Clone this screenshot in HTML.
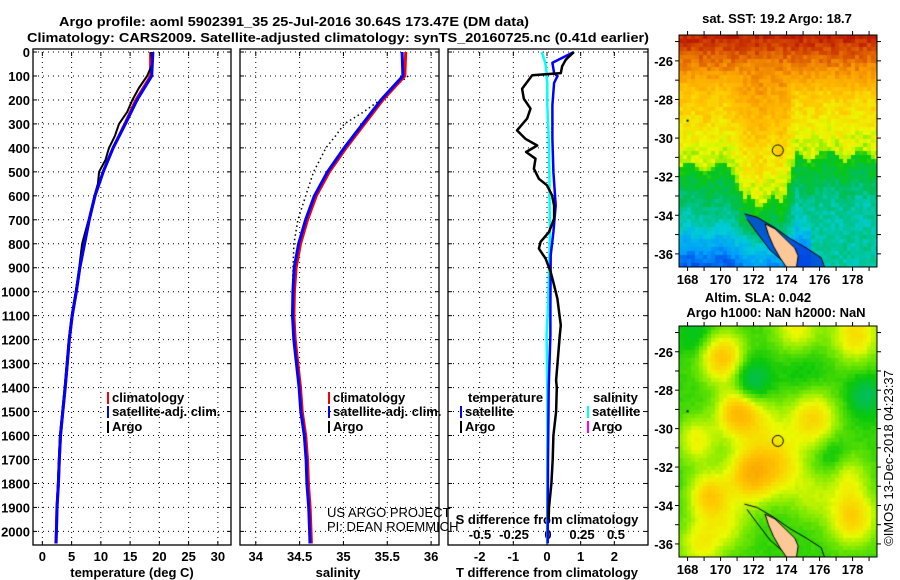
<!DOCTYPE html>
<html><head><meta charset="utf-8">
<style>
html,body{margin:0;padding:0;background:#fff;}
#wrap{position:relative;width:900px;height:580px;overflow:hidden;}
svg{position:absolute;left:0;top:0;}
text{font-family:"Liberation Sans",sans-serif;font-weight:bold;font-size:13px;fill:#000;}
.thin{font-weight:normal;}
</style></head><body>
<div id="wrap">
<canvas id="map1" width="198" height="232" style="position:absolute;left:679px;top:35px"></canvas>
<canvas id="map2" width="198" height="231" style="position:absolute;left:679px;top:326px"></canvas>
<svg id="fig" width="900" height="580"></svg>
</div>
<script>
// ---- data ----
const depthClim = [0,100,200,300,400,500,600,700,800,900,1000,1100,1200,1400,1500,1600,1700,1800,1900,2000,2050];
const tempClim  = [18.5,18.5,16.0,14.1,12.1,10.4,9.0,8.0,7.2,6.4,5.8,5.1,4.6,3.9,3.5,3.1,2.9,2.75,2.5,2.4,2.3];
const tempSat   = [18.9,18.7,16.2,14.2,12.1,10.4,9.0,8.0,7.2,6.4,5.8,5.1,4.6,3.9,3.5,3.1,2.9,2.75,2.5,2.4,2.35];
const depthArgo = [0,50,100,150,200,250,300,350,400,450,500,550,600,700,800,900,1000,1100,1200,1400,1600,1800,1900];
const tempArgo  = [18.6,18.8,17.9,16.5,15.4,14.5,13.1,12.4,11.4,10.8,9.7,9.5,8.9,7.9,6.8,6.3,5.7,5.0,4.5,3.8,3.0,2.65,2.45];
const salClim   = [35.71,35.70,35.45,35.24,35.03,34.84,34.69,34.59,34.51,34.46,34.44,34.435,34.45,34.51,34.53,34.57,34.59,34.60,34.62,34.63,34.635];
const salSat    = [35.68,35.69,35.44,35.23,35.02,34.83,34.68,34.58,34.50,34.45,34.435,34.43,34.445,34.505,34.525,34.565,34.585,34.595,34.615,34.625,34.63];
const depthSalArgo = [100,150,200,250,300,350,400,450,500,600,700,800,900,1000,1100,1200,1400,1600,1800,1950];
const salArgo   = [35.74,35.56,35.42,35.23,35.01,34.91,34.80,34.73,34.66,34.57,34.48,34.435,34.425,34.42,34.425,34.45,34.50,34.56,34.60,34.62];
const depthDiff = [0,32,60,88,97,153,195,236,278,327,362,390,417,445,487,529,556,598,640,695,751,792,820,862,918,973,1029,1085,1140,1182,1370,1400,1500,1600,1700,1800,1900,1950];
const tDiffArgo = [0.8,0.56,0.45,0.41,-0.44,-0.74,-0.69,-0.49,-0.59,-0.89,-0.64,-0.29,-0.62,-0.34,-0.39,-0.24,0,0.15,0.21,0.21,0.06,-0.19,-0.24,-0.04,0.11,0.21,0.31,0.36,0.41,0.38,0.27,0.29,0.27,0.19,0.17,0.13,0.06,0.05];
const depthSatDiff = [0,45,88,101,129,222,362,501,640,751,848,1057,1182,1400,1700,2000,2050];
const tDiffSat  = [0.8,0.16,0.21,0.31,0.21,0.16,0.16,0.19,0.26,0.19,0.11,0.1,0.1,0.05,0.03,0.02,0.02];
const sDiffSat  = [-0.046,-0.02,-0.01,-0.01,-0.005,-0.005,0.005,0.01,0.012,0.015,0.01,0.0,-0.01,-0.005,-0.005,-0.005,-0.005];
const depthTicks = [0,100,200,300,400,500,600,700,800,900,1000,1100,1200,1300,1400,1500,1600,1700,1800,1900,2000];
const tempTicks = [0,5,10,15,20,25,30];
const salTicks = [34,34.5,35,35.5,36];
const salTickLabels = ["34","34.5","35","35.5","36"];
const tdTicks = [-2,-1,0,1,2];
const sdTicks = [-0.5,-0.25,0,0.25,0.5];
const sdTickLabels = ["-0.5","-0.25","0","0.25","0.5"];
const latTicks = [-26,-28,-30,-32,-34,-36];
const lonTicks = [168,170,172,174,176,178];

const NS="http://www.w3.org/2000/svg";
const svg=document.getElementById('fig');
function el(tag,attrs,parent){const e=document.createElementNS(NS,tag);for(const k in attrs)e.setAttribute(k,attrs[k]);(parent||svg).appendChild(e);return e;}
function txt(x,y,s,anchor,extra){const t=el('text',Object.assign({x:x,y:y,'text-anchor':anchor||'start'},extra||{}));t.textContent=s;return t;}

const Y0=52, YPX=0.2397, YB=545;
const yS=d=>Y0+d*YPX;
const panels=[
 {x0:33,x1:231,v0:-1.6,v1:32.25},
 {x0:240,x1:439,v0:33.82,v1:36.09},
 {x0:448,x1:648,v0:-2.94,v1:3.0}
];
function xScale(p){return v=>p.x0+(v-p.v0)/(p.v1-p.v0)*(p.x1-p.x0);}
const xT=xScale(panels[0]), xS=xScale(panels[1]), xD=xScale(panels[2]);
const xSD=v=>548+v*136;

panels.forEach((p,i)=>{
  const g=el('g',{});
  
  
  const xs = i==0?tempTicks.map(xT):i==1?salTicks.map(xS):tdTicks.map(xD);
  depthTicks.forEach(d=>{el('line',{x1:p.x0,x2:p.x1,y1:yS(d),y2:yS(d),stroke:'#000','stroke-dasharray':'1,4','stroke-width':1},g);
    el('line',{x1:p.x0,x2:p.x0+4,y1:yS(d),y2:yS(d),stroke:'#000'},g);el('line',{x1:p.x1-4,x2:p.x1,y1:yS(d),y2:yS(d),stroke:'#000'},g);});
  xs.forEach(x=>{el('line',{x1:x,x2:x,y1:Y0,y2:YB,stroke:'#000','stroke-dasharray':'1,4'},g);
    el('line',{x1:x,x2:x,y1:YB-4,y2:YB,stroke:'#000'},g);el('line',{x1:x,x2:x,y1:Y0,y2:Y0+4,stroke:'#000'},g);});
  el('rect',{x:p.x0,y:Y0-3,width:p.x1-p.x0,height:YB-Y0+3,fill:'none',stroke:'#000','stroke-width':1.3},g);
});
depthTicks.forEach(d=>{const t=txt(30,yS(d)+5,String(d),'end');});
tempTicks.forEach(v=>{const t=txt(xT(v),561,String(v),'middle');});
salTicks.forEach((v,i)=>{const t=txt(xS(v),561,salTickLabels[i],'middle');});
tdTicks.forEach(v=>{const t=txt(xD(v),561,String(v),'middle');});
sdTicks.forEach((v,i)=>{const t=txt(xSD(v),539,sdTickLabels[i],'middle');});
let t;
t=txt(132,577,'temperature (deg C)','middle');
t=txt(338,577,'salinity','middle');
t=txt(547,577,'T difference from climatology','middle');
t=txt(547,524,'S difference from climatology','middle');
t=txt(294,26,'Argo profile: aoml 5902391_35 25-Jul-2016 30.64S 173.47E (DM data)','middle',{textLength:470,lengthAdjust:'spacingAndGlyphs','font-size':'14px'});
t=txt(338,42,'Climatology: CARS2009. Satellite-adjusted climatology: synTS_20160725.nc (0.41d earlier)','middle',{textLength:622,lengthAdjust:'spacingAndGlyphs','font-size':'14px'});
t=txt(327,517,'US ARGO PROJECT','start',{class:'thin','font-size':'12px'});
t=txt(327,531,'PI: DEAN ROEMMICH','start',{class:'thin','font-size':'12px'});

function line(xs,ys,fx,color,w,name,dash){
  const pts=xs.map((v,i)=>fx(v).toFixed(1)+','+yS(ys[i]).toFixed(1)).join(' ');
  const a={points:pts,fill:'none',stroke:color,'stroke-width':w,'stroke-linejoin':'round'};
  if(dash)a['stroke-dasharray']=dash;
  const p=el('polyline',a);
  
  
  return p;
}
line(tempClim,depthClim,xT,'#f00',3,'temp-climatology-line');
line(tempArgo,depthArgo,xT,'#000',2,'temp-argo-line');
line(tempSat,depthClim,xT,'#00f',3,'temp-satellite-line');
line(salArgo,depthSalArgo,xS,'#000',1.5,'sal-argo-line','1.5,3');
line(salClim,depthClim,xS,'#f00',3,'sal-climatology-line');
line(salSat,depthClim,v=>xS(v)-1,'#00f',3,'sal-satellite-line');
line(sDiffSat,depthSatDiff,xSD,'#0ff',2.5,'sdiff-satellite-line');
line(tDiffSat,depthSatDiff,xD,'#00f',2.5,'tdiff-satellite-line');
line(tDiffArgo,depthDiff,xD,'#000',2.5,'tdiff-argo-line');

function legItem(x,y,color,label,name){
  const g=el('g',{});
  
  
  el('rect',{x:x,y:y-10,width:2,height:12,fill:color},g);
  const tt=el('text',{x:x+5,y:y},g);tt.textContent=label;
}
legItem(107,402,'#f00','climatology','legend-climatology');
legItem(107,416,'#00f','satellite-adj. clim.','legend-satellite-adj');
legItem(107,431,'#000','Argo','legend-argo');
legItem(328,402,'#f00','climatology','legend2-climatology');
legItem(328,416,'#00f','satellite-adj. clim.','legend2-satellite-adj');
legItem(328,431,'#000','Argo','legend2-argo');
t=txt(468,402,'temperature');
legItem(460,416,'#00f','satellite','legend-t-satellite');
legItem(460,431,'#000','Argo','legend-t-argo');
t=txt(593,402,'salinity');
legItem(587,416,'#0ff','satellite','legend-s-satellite');
legItem(587,431,'#f0f','Argo','legend-s-argo');

// ---- maps ----
const LON0=167.48, LON1=179.48, LAT0=-24.66, LAT1=-36.68;
function cmap(v){
  const stops=[[0,[0,0,170]],[0.15,[0,60,230]],[0.27,[0,160,250]],[0.36,[0,205,215]],[0.45,[0,190,90]],[0.52,[10,200,10]],[0.58,[130,235,0]],[0.63,[235,250,0]],[0.7,[255,200,0]],[0.78,[250,160,0]],[0.86,[220,90,0]],[0.93,[190,30,0]],[1,[150,0,0]]];
  v=Math.max(0,Math.min(1,v));
  for(let i=1;i<stops.length;i++){if(v<=stops[i][0]){const a=stops[i-1],b=stops[i],f=(v-a[0])/(b[0]-a[0]);return 'rgb('+a[1].map((c,k)=>Math.round(c+(b[1][k]-c)*f)).join(',')+')';}}
  return 'rgb(150,0,0)';
}
function hash(i,j){let h=(i*374761393+j*668265263)>>>0;h=((h^(h>>>13))*1274126177)>>>0;return ((h^(h>>>16))>>>0)/4294967295;}
function bnd(lon){
  if(lon<170.5)return -31.5+0.3*Math.sin(lon*3);
  if(lon<171.5)return -31.5-(lon-170.5)*1.6;
  if(lon<173.8)return -33.3+0.3*Math.sin(lon*4);
  if(lon<174.6)return -33.3+(lon-173.8)*3;
  return -30.9+0.3*Math.sin(lon*3);
}
function sst(lon,lat){
  const b=bnd(lon);
  if(lat>b){
    let v=0.6+0.03*(Math.min(lat,-27)-Math.min(b,-29.5)) ;
    if(lat>-27.5) v=Math.max(v,0.72+0.075*(lat+27.5));
    return Math.max(v,0.6);
  }
  let v=0.52+0.045*(lat-b);
  if(lat<-34.5) v-= 0.05*(-34.5-lat);
  if(lon>175.5) v=Math.max(v,0.4);
  return Math.max(v,0.2);
}
const blobs=[[170.1,-26.3,0.17,1.3],[171.9,-27.5,-0.1,1.1],[171.0,-29.2,0.17,1.2],[175.6,-29.5,0.14,1.4],[178.8,-28.3,-0.09,1.0],[178.2,-25.1,0.13,1.4],[174.6,-24.7,0.1,1.4],[171.8,-32.4,0.18,1.4],[173.6,-31.9,0.12,1.5],[169.3,-33.5,0.15,1.2],[178,-34.6,0.15,1.4],[168.8,-36.0,0.1,1.3],[168.6,-30.6,0.1,1.2],[177.7,-32.4,0.08,1.2],[168.6,-25.1,-0.05,1.1],[176.8,-31.5,-0.05,1.0],[175.0,-27.0,-0.03,1.3],[172.5,-29.8,0.08,1.5],[175.5,-33.5,0.06,1.3],[170.5,-35.0,0.07,1.3]];
function sla(lon,lat){let v=0.54;blobs.forEach(b=>{const d2=((lon-b[0])**2+(lat-b[1])**2)/(b[3]*b[3]);v+=b[2]*Math.exp(-d2);});return v;}
const land=[[172.7,-34.45],[173.3,-34.7],[173.9,-35.2],[174.5,-35.7],[174.7,-36.1],[174.6,-36.7],[174.0,-36.7],[173.6,-36.2],[173.2,-35.6],[172.9,-35.0]];
const shelf=[[171.45,-33.93],[172.2,-34.1],[173.2,-34.6],[174.2,-35.2],[175.2,-35.7],[176.1,-36.2],[176.3,-36.7],[174.2,-36.7],[173.0,-35.8],[172.2,-34.9],[171.6,-34.2]];
function drawMap(id,fn,noise,step,fillShelf){
  const c=document.getElementById(id),ctx=c.getContext('2d'),W=c.width,H=c.height;
  const lx=lon=>(lon-LON0)/(LON1-LON0)*W, ly=lat=>(lat-LAT0)/(LAT1-LAT0)*H;
  for(let j=0;j*step<H;j++)for(let i=0;i*step<W;i++){
    const lon=LON0+(i*step+step/2)/W*(LON1-LON0), lat=LAT0+(j*step+step/2)/H*(LAT1-LAT0);
    ctx.fillStyle=cmap(fn(lon,lat)+(hash(i,j)-0.5)*noise);
    ctx.fillRect(i*step,j*step,step,step);
  }
  ctx.beginPath();shelf.forEach((p,k)=>k?ctx.lineTo(lx(p[0]),ly(p[1])):ctx.moveTo(lx(p[0]),ly(p[1])));
  if(fillShelf){ctx.fillStyle='rgba(0,70,225,0.85)';ctx.fill();}
  ctx.strokeStyle='#000';ctx.lineWidth=1;ctx.stroke();
  ctx.beginPath();land.forEach((p,k)=>k?ctx.lineTo(lx(p[0]),ly(p[1])):ctx.moveTo(lx(p[0]),ly(p[1])));ctx.closePath();
  ctx.fillStyle='#fcc898';ctx.fill();ctx.stroke();
  ctx.beginPath();ctx.arc(lx(173.47),ly(-30.64),5.5,0,Math.PI*2);ctx.stroke();
  ctx.fillStyle='#000';ctx.fillRect(lx(168)-1,ly(-29.1)-1,2,2);
}
drawMap('map1',sst,0.06,4,true);
drawMap('map2',sla,0.012,4,false);
function mapAxes(top,bottom,name){
  const g=el('g',{});
  
  
  const H=bottom-top;
  el('rect',{x:679,y:top,width:198,height:H,fill:'none',stroke:'#000','stroke-width':1},g);
  for(let la=-25;la>=-36;la--){const y=top+(la-LAT0)/(LAT1-LAT0)*H;el('line',{x1:675,x2:679,y1:y,y2:y,stroke:'#000'},g);el('line',{x1:877,x2:881,y1:y,y2:y,stroke:'#000'},g);}
  latTicks.forEach(la=>{const y=top+(la-LAT0)/(LAT1-LAT0)*H;const tt=el('text',{x:673,y:y+5,'text-anchor':'end'},g);tt.textContent=String(la);});
  for(let lo=168;lo<=179;lo++){const x=679+(lo-LON0)/(LON1-LON0)*198;el('line',{x1:x,x2:x,y1:top-4,y2:top,stroke:'#000'},g);el('line',{x1:x,x2:x,y1:bottom,y2:bottom+4,stroke:'#000'},g);}
  lonTicks.forEach(lo=>{const x=679+(lo-LON0)/(LON1-LON0)*198;const tt=el('text',{x:x,y:bottom+17,'text-anchor':'middle'},g);tt.textContent=String(lo);});
}
mapAxes(35,267,'sst-map-axes');
mapAxes(326,557,'sla-map-axes');
t=txt(777,23,'sat. SST: 19.2 Argo: 18.7','middle');
t=txt(758,302,'Altim. SLA: 0.042','middle');
t=txt(776,317,'Argo h1000: NaN h2000: NaN','middle');
t=txt(0,0,'©IMOS 13-Dec-2018 04:23:37','middle',{class:'thin',transform:'translate(893,458) rotate(-90)'});
</script>
</body></html>
